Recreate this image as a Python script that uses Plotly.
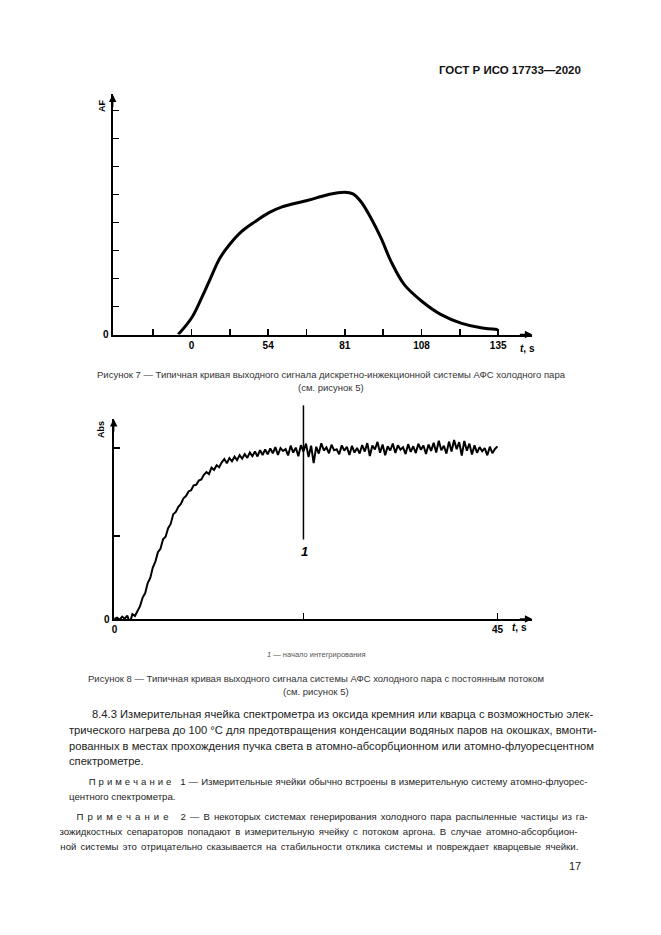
import json
import plotly.graph_objects as go

W, H = 661, 935
FONT = "Liberation Sans, Arial, sans-serif"

# ---------- Figure 7 data (axis units: x tick step 13.5, y tick step 1) ----------
fig7_x = [-4.69, 0.0, 3.52, 6.45, 9.96, 13.48, 17.58, 22.27, 27.3, 31.64, 41.02,
          48.05, 53.9, 56.84, 59.77, 63.28, 66.8, 70.3, 75.0, 81.2, 87.9, 94.9,
          101.95, 107.8]
fig7_y = [0.0, 0.59, 1.30, 1.95, 2.72, 3.22, 3.67, 4.02, 4.35, 4.55, 4.79,
          4.99, 5.08, 5.02, 4.73, 4.14, 3.43, 2.60, 1.77, 1.18, 0.71, 0.41,
          0.24, 0.18]
fig7_tickvals = [-13.5, 0, 13.5, 27, 40.5, 54, 67.5, 81, 94.5, 108]
fig7_ticktext = ["", "0", "", "54", "", "81", "", "108", "", "135"]
fig7_ytickvals = [0, 1, 2, 3, 4, 5, 6, 7, 8]
fig7_yticktext = ["0", "", "", "", "", "", "", "", ""]

# ---------- Figure 8 data (t in s, Abs relative) ----------
fig8_t = [0.0, 0.3, 0.6, 0.9, 1.2, 1.5, 1.8, 2.1, 2.4, 2.7, 3.0, 3.3, 3.6, 3.9,
          4.2, 4.5, 4.8, 5.1, 5.4, 5.7, 6.0, 6.3, 6.6, 6.9, 7.2, 7.5, 7.8, 8.1,
          8.4, 8.7, 9.0, 9.3, 9.6, 9.9, 10.2, 10.5, 10.8, 11.1, 11.4, 11.7, 12.0,
          12.3, 12.6, 12.9, 13.2, 13.5, 13.8, 14.1, 14.4, 14.7, 15.0, 15.3, 15.6,
          15.9, 16.2, 16.5, 16.8, 17.1, 17.4, 17.7, 18.0, 18.3, 18.6, 18.9, 19.2,
          19.5, 19.8, 20.1, 20.4, 20.7, 21.0, 21.3, 21.6, 21.9, 22.2, 22.5, 22.8,
          23.1, 23.4, 23.7, 24.0, 24.3, 24.6, 24.9, 25.2, 25.5, 25.8, 26.1, 26.4,
          26.7, 27.0, 27.3, 27.6, 27.9, 28.2, 28.5, 28.8, 29.1, 29.4, 29.7, 30.0,
          30.3, 30.6, 30.9, 31.2, 31.5, 31.8, 32.1, 32.4, 32.7, 33.0, 33.3, 33.6,
          33.9, 34.2, 34.5, 34.8, 35.1, 35.4, 35.7, 36.0, 36.3, 36.6, 36.9, 37.2,
          37.5, 37.8, 38.1, 38.4, 38.7, 39.0, 39.3, 39.6, 39.9, 40.2, 40.5, 40.8,
          41.1, 41.4, 41.7, 42.0, 42.3, 42.6, 42.9, 43.2, 43.5, 43.8, 44.1, 44.4,
          44.7, 45.0]
fig8_abs = [0.000, 0.008, -0.004, 0.014, 0.002, 0.020, -0.022, 0.028, 0.018, 0.050,
            0.075, 0.125, 0.150, 0.210, 0.240, 0.300, 0.335, 0.390, 0.410, 0.465,
            0.480, 0.530, 0.555, 0.612, 0.625, 0.655, 0.672, 0.705, 0.718, 0.745,
            0.752, 0.781, 0.784, 0.808, 0.815, 0.842, 0.858, 0.846, 0.884, 0.871,
            0.898, 0.886, 0.915, 0.934, 0.909, 0.940, 0.921, 0.948, 0.928, 0.957,
            0.936, 0.963, 0.941, 0.972, 0.951, 0.978, 0.949, 0.986, 0.958, 0.990,
            0.962, 0.996, 0.968, 1.004, 0.958, 0.998, 0.981, 0.992, 0.955, 1.012,
            0.972, 1.001, 0.950, 1.015, 0.978, 1.024, 0.946, 1.012, 0.910, 1.006,
            0.966, 1.026, 0.984, 1.002, 0.968, 1.018, 0.985, 0.991, 0.962, 1.014,
            0.983, 1.006, 0.958, 1.011, 0.972, 0.999, 0.966, 1.016, 0.978, 1.027,
            0.952, 1.013, 0.990, 1.034, 0.971, 1.019, 0.956, 1.008, 0.984, 1.025,
            0.970, 1.014, 0.989, 1.003, 0.963, 1.021, 0.976, 1.009, 0.969, 1.024,
            0.988, 1.013, 0.964, 1.019, 0.982, 1.029, 0.972, 1.041, 0.986, 1.012,
            0.966, 1.036, 0.978, 1.045, 0.992, 1.033, 0.955, 1.040, 0.983, 1.024,
            0.961, 1.014, 0.971, 1.004, 0.979, 0.998, 0.956, 1.006, 0.968, 0.993,
            1.008]
fig8_tickvals = [0, 22.2, 45]
fig8_ticktext = ["0", "", "45"]
fig8_ytickvals = [0, 0.485, 1.0]
fig8_yticktext = ["0", "", ""]
integration_start = 22.2

# ---------- text ----------
header = "ГОСТ Р ИСО 17733—2020"
cap7 = ["Рисунок 7 — Типичная кривая выходного сигнала дискретно-инжекционной системы АФС холодного пара",
        "(см. рисунок 5)"]
legend8 = "<i>1</i> — начало интегрирования"
cap8 = ["Рисунок 8 — Типичная кривая выходного сигнала системы АФС холодного пара с постоянным потоком",
        "(см. рисунок 5)"]
para = ["8.4.3 Измерительная ячейка спектрометра из оксида кремния или кварца с возможностью элек-",
        "трического нагрева до 100 °C для предотвращения конденсации водяных паров на окошках, вмонти-",
        "рованных в местах прохождения пучка света в атомно-абсорбционном или атомно-флуоресцентном",
        "спектрометре."]
NB = "\u00a0"
note_word = NB.join(list("Примечание"))
note1 = [note_word + NB * 3 + "1 — Измерительные ячейки обычно встроены в измерительную систему атомно-флуорес-",
         "центного спектрометра."]
note2 = [note_word + NB * 3 + "2 — В некоторых системах генерирования холодного пара распыленные частицы из га-",
         "зожидкостных сепараторов попадают в измерительную ячейку с потоком аргона. В случае атомно-абсорбцион-",
         "ной системы это отрицательно сказывается на стабильности отклика системы и повреждает кварцевые ячейки."]
page_no = "17"
RIGHT = 583


def px(x):
    return x / W


def py(y):
    return 1 - y / H


fig = go.Figure()

fig.add_trace(go.Scatter(x=fig7_x, y=fig7_y, mode="lines", xaxis="x", yaxis="y",
                         line=dict(color="black", width=3, shape="spline", smoothing=1.0),
                         showlegend=False, hoverinfo="skip"))
fig.add_trace(go.Scatter(x=fig8_t, y=fig8_abs, mode="lines", xaxis="x2", yaxis="y2",
                         line=dict(color="black", width=2),
                         showlegend=False, hoverinfo="skip"))

axis_common = dict(showgrid=False, zeroline=False, showline=True, linecolor="black",
                   linewidth=2, ticks="inside", tickcolor="black", tickwidth=1.5,
                   ticklen=6, tickfont=dict(family=FONT, size=10, color="black", weight="bold"))

fig.update_layout(
    width=W, height=H, margin=dict(l=0, r=0, t=0, b=0),
    paper_bgcolor="white", plot_bgcolor="white",
    xaxis=dict(domain=[px(111), px(532)], range=[-27.77, 120.05], anchor="y",
               tickmode="array", tickvals=fig7_tickvals, ticktext=fig7_ticktext, **axis_common),
    yaxis=dict(domain=[py(336.7), py(95)], range=[0, 8.57], anchor="x",
               tickmode="array", tickvals=fig7_ytickvals, ticktext=fig7_yticktext, **axis_common),
    xaxis2=dict(domain=[px(112), px(532)], range=[-0.1, 49.1], anchor="y2",
                tickmode="array", tickvals=fig8_tickvals, ticktext=fig8_ticktext, **axis_common),
    yaxis2=dict(domain=[py(623), py(421.7)], range=[0, 1.168], anchor="x2",
                tickmode="array", tickvals=fig8_ytickvals, ticktext=fig8_yticktext, **axis_common),
)

# integration start line
fig.add_shape(type="line", xref="x2", yref="y2 domain", x0=integration_start, x1=integration_start,
              y0=(623 - 543) / (623 - 421.7), y1=(623 - 408) / (623 - 421.7),
              line=dict(color="black", width=1.5))

ann = []
# axis arrows
for xr, yr in (("x", "y"), ("x2", "y2")):
    ann.append(dict(xref=xr + " domain", yref=yr + " domain", x=1, y=0, ax=-14, ay=0,
                    axref="pixel", ayref="pixel", text="", showarrow=True,
                    arrowhead=2, arrowsize=1, arrowwidth=1.5, arrowcolor="black"))
    ann.append(dict(xref=xr + " domain", yref=yr + " domain", x=0, y=1, ax=0, ay=14,
                    axref="pixel", ayref="pixel", text="", showarrow=True,
                    arrowhead=2, arrowsize=1, arrowwidth=1.5, arrowcolor="black"))


def text(x, y, s, size, anchor="center", bold=False, color="black", angle=0):
    ann.append(dict(xref="paper", yref="paper", x=px(x), y=py(y), text=s, showarrow=False,
                    xanchor=anchor, yanchor="middle", textangle=angle,
                    font=dict(family=FONT, size=size, color=color,
                              weight="bold" if bold else "normal")))


# axis titles
text(101, 106, "AF", 9, bold=True, angle=-90)
text(527, 351, "<i>t</i>, s", 10, bold=True)
text(100, 432, "Abs", 9, bold=True, angle=-90)
text(519, 632, "<i>t</i>, s", 10, bold=True)
text(303, 555, "<i>1</i>", 13, bold=True)

# page texts
GREY = "#333"
text(RIGHT, 70, header, 11.5, anchor="right", bold=True, color="#111")
text(330, 377, cap7[0], 9.5, color=GREY)
text(330, 390, cap7[1], 9.5, color=GREY)
text(315, 659, legend8, 7.5, color="#555")
text(315, 683, cap8[0], 9.5, color=GREY)
text(315, 696, cap8[1], 9.5, color=GREY)

justify = {}  # line text -> target width in px
text(88, 719, para[0], 11.2, anchor="left", color="#222")
justify[para[0]] = RIGHT - 88
for i, line in enumerate(para[1:]):
    text(65, 735 + i * 15.7, line, 11.2, anchor="left", color="#222")
    if i < 2:
        justify[line] = RIGHT - 65
text(88, 787, note1[0], 9.6, anchor="left", color="#222")
justify[note1[0]] = RIGHT - 88
text(65, 802, note1[1], 9.6, anchor="left", color="#222")
text(88, 822, note2[0], 9.6, anchor="left", color="#222")
justify[note2[0]] = RIGHT - 88
text(65, 837, note2[1], 9.6, anchor="left", color="#222")
justify[note2[1]] = RIGHT - 65
text(65, 852, note2[2], 9.6, anchor="left", color="#222")
justify[note2[2]] = RIGHT - 65
text(RIGHT, 872, page_no, 11, anchor="right", color="#222")

fig.update_layout(annotations=ann)

post = """
document.body.style.margin = '0px';
document.body.style.overflow = 'hidden';
var J = %s;
document.querySelectorAll('text.annotation-text').forEach(function (t) {
  var s = t.textContent;
  if (Object.prototype.hasOwnProperty.call(J, s)) {
    var n = (s.match(/ /g) || []).length;
    var w = t.getComputedTextLength();
    if (n > 0 && J[s] > w) { t.style.wordSpacing = ((J[s] - w) / n) + 'px'; }
  }
});
""" % json.dumps(justify, ensure_ascii=False)

fig.write_html("out.html", post_script=post, config={"displayModeBar": False, "staticPlot": True})
